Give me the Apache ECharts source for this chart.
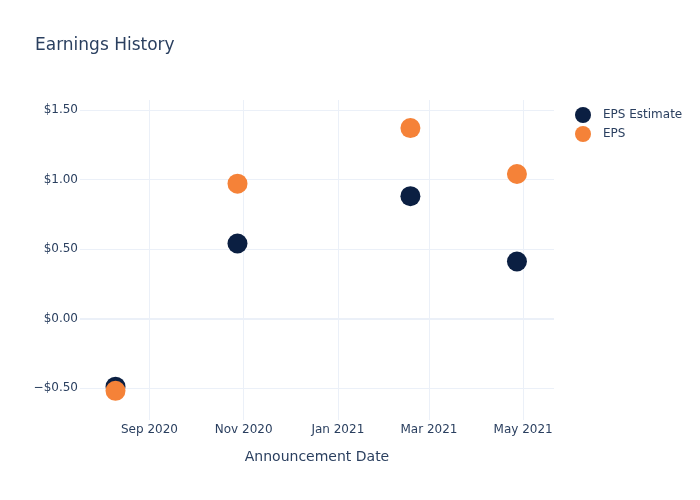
<!DOCTYPE html>
<html>
<head>
<meta charset="utf-8">
<script src="https://cdn.jsdelivr.net/npm/echarts@6/dist/echarts.min.js"></script>
<style>html,body{margin:0;padding:0;background:#fff}#c{width:700px;height:500px}</style>
</head>
<body>
<div id="c"></div>
<script>
const dates = ['2020-08-10', '2020-10-28', '2021-02-17', '2021-04-27'];
const epsEstimate = [-0.49, 0.54, 0.88, 0.41];
const eps = [-0.52, 0.97, 1.37, 1.04];
const xTickDates = ['2020-09-01', '2020-11-01', '2021-01-01', '2021-03-01', '2021-05-01'];
const xTickLabels = ['Sep 2020', 'Nov 2020', 'Jan 2021', 'Mar 2021', 'May 2021'];
const yTicks = [-0.5, 0, 0.5, 1, 1.5];
const xRange = ['2020-07-18', '2021-05-21'];
const yRange = [-0.73, 1.572];

function ts(s) { const p = s.split('-').map(Number); return Date.UTC(p[0], p[1] - 1, p[2]); }
const xTickTs = xTickDates.map(ts);
const font = 'DejaVu Sans';
const textColor = '#2a3f5f';
const gridColor = '#ebf0f8';

const chart = echarts.init(document.getElementById('c'), null, {renderer: 'canvas'});
chart.setOption({
  animation: false,
  backgroundColor: '#fff',
  textStyle: {fontFamily: font, color: textColor},
  title: {
    text: 'Earnings History', left: 30, top: 32,
    textStyle: {fontFamily: font, fontSize: 17, fontWeight: 'normal', color: textColor}
  },
  legend: {
    orient: 'vertical', left: 570, top: 102, itemGap: 3,
    itemWidth: 16, itemHeight: 16, icon: 'circle',
    textStyle: {fontFamily: font, fontSize: 12, color: textColor, padding: [0, 0, 0, 7]}
  },
  grid: {left: 80, right: 146, top: 100, bottom: 80, containLabel: false},
  xAxis: {
    type: 'value', min: ts(xRange[0]), max: ts(xRange[1]), scale: true,
    name: 'Announcement Date', nameLocation: 'middle', nameGap: 30,
    nameTextStyle: {fontFamily: font, fontSize: 14, color: textColor},
    axisLine: {show: false},
    axisTick: {show: false, customValues: xTickTs},
    axisLabel: {
      customValues: xTickTs, margin: 4, fontFamily: font, fontSize: 12, color: textColor,
      formatter: function (v) { const i = xTickTs.indexOf(v); return i >= 0 ? xTickLabels[i] : ''; }
    },
    splitLine: {show: true, lineStyle: {color: gridColor, width: 1}}
  },
  yAxis: {
    type: 'value', min: yRange[0], max: yRange[1],
    axisLine: {show: false},
    axisTick: {show: false, customValues: yTicks},
    axisLabel: {
      customValues: yTicks, margin: 2, fontFamily: font, fontSize: 12, color: textColor,
      formatter: function (v) { return (v < 0 ? '\u2212$' : '$') + Math.abs(v).toFixed(2); }
    },
    splitLine: {show: true, lineStyle: {color: gridColor, width: 1}}
  },
  series: [
    {
      name: 'EPS Estimate', type: 'scatter', symbolSize: 20,
      itemStyle: {color: '#0b1f42', opacity: 1},
      data: dates.map((d, i) => [ts(d), epsEstimate[i]]),
      markLine: {
        silent: true, symbol: 'none', label: {show: false},
        lineStyle: {color: gridColor, width: 2, type: 'solid'},
        data: [{yAxis: 0}], z: 1
      },
      z: 3
    },
    {
      name: 'EPS', type: 'scatter', symbolSize: 20,
      itemStyle: {color: '#f58238', opacity: 1},
      data: dates.map((d, i) => [ts(d), eps[i]]),
      z: 4
    }
  ]
});
</script>
</body>
</html>
